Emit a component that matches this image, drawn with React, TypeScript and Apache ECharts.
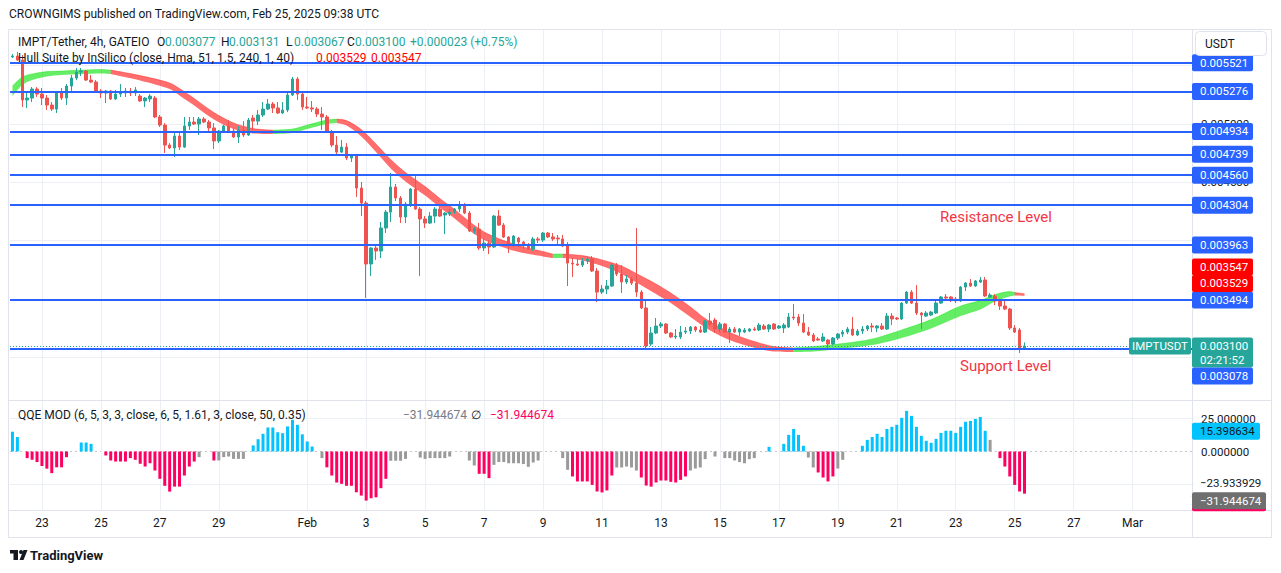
import React, { useEffect, useRef } from "react";
import * as echarts from "echarts";

const FONT = "Roboto, 'Noto Sans', Arial, sans-serif";
const TEXT = "#131722";
const UP = "#26a69a";
const DOWN = "#ef5350";
const BLUE = "#2962ff";
const GRID = "#eceff3";

// 4h candles from 22 Jan 2025 00:00 UTC, prices in millionths of USDT: [open, high, low, close]
const candles: number[][] = [
  [5571,5596,5562,5579],[5579,5613,5537,5545],[5545,5588,5143,5203],[5203,5263,5135,5220],[5220,5314,5186,5297],
  [5297,5314,5229,5254],[5254,5306,5160,5220],[5220,5246,5118,5160],[5160,5186,5109,5126],[5126,5271,5092,5263],
  [5263,5306,5203,5220],[5220,5340,5160,5323],[5323,5417,5271,5391],[5391,5477,5374,5442],[5442,5477,5408,5451],
  [5451,5460,5366,5374],[5374,5417,5348,5357],[5357,5374,5263,5271],[5280,5297,5220,5263],[5263,5289,5177,5280],
  [5280,5289,5203,5212],[5212,5289,5203,5254],[5254,5340,5229,5271],[5263,5306,5229,5280],[5280,5306,5237,5263],
  [5263,5314,5237,5289],[5237,5254,5186,5195],[5195,5229,5143,5220],[5212,5254,5186,5237],[5220,5237,5049,5058],
  [5058,5075,4972,4989],[4989,5006,4750,4818],[4818,4835,4784,4793],[4793,4929,4716,4895],[4895,4921,4776,4801],
  [4801,5058,4793,4981],[4981,5058,4947,5015],[5015,5058,4989,4998],[4998,5058,4904,5041],[5041,5058,5006,5015],
  [5015,5032,4929,4964],[4964,5006,4784,4853],[4853,4947,4835,4938],[4938,4989,4921,4981],[4981,5032,4929,4938],
  [4938,4964,4878,4887],[4887,4981,4835,4947],[4947,5023,4887,4904],[4904,5049,4895,5032],[5049,5075,4947,5023],
  [5023,5118,4989,5075],[5075,5186,5058,5126],[5126,5212,5118,5169],[5169,5186,5092,5135],[5135,5186,5083,5092],
  [5092,5186,5083,5118],[5118,5263,5100,5246],[5246,5400,5237,5383],[5383,5400,5203,5254],[5254,5263,5118,5143],
  [5143,5229,5126,5135],[5135,5195,5100,5126],[5126,5143,5058,5083],[5083,5143,4947,5058],[5058,5075,4921,4929],
  [4929,4947,4801,4818],[4818,4895,4741,4758],[4758,4861,4750,4801],[4801,4835,4690,4707],[4707,4741,4673,4724],
  [4724,4733,4374,4451],[4451,4502,4211,4322],[4322,4340,3510,3801],[3801,3946,3698,3938],[3938,3963,3835,3912],
  [3912,4160,3852,4109],[4109,4263,4066,4245],[4245,4579,4160,4459],[4459,4485,4340,4365],[4365,4382,4151,4203],
  [4203,4331,4151,4314],[4314,4451,4288,4442],[4442,4553,4263,4271],[4271,4288,3698,4186],[4186,4211,4109,4151],
  [4151,4245,4143,4211],[4211,4288,4151,4271],[4271,4288,4203,4211],[4220,4245,4057,4237],[4228,4271,4211,4245],
  [4245,4280,4228,4271],[4271,4340,4245,4297],[4297,4322,4228,4237],[4237,4254,4074,4083],[4083,4117,4057,4100],
  [4100,4151,3921,3938],[3938,4015,3912,3980],[3980,4006,3886,3946],[3946,4220,3938,4211],[4211,4263,4126,4134],
  [4134,4151,4023,4032],[4032,4040,3895,3963],[3963,4049,3946,4040],[4023,4032,3946,3989],[3989,3998,3929,3963],
  [3963,3980,3921,3929],[3929,4032,3912,4015],[4015,4032,3980,4006],[4006,4074,3989,4066],[4066,4074,4023,4032],
  [4032,4066,3998,4015],[4023,4049,3955,4015],[4015,4049,3946,3955],[3955,3989,3613,3809],[3809,3852,3690,3801],
  [3801,3844,3784,3792],[3792,3852,3775,3826],[3826,3861,3801,3844],[3844,3869,3732,3741],[3741,3767,3476,3561],
  [3561,3621,3544,3587],[3587,3664,3544,3613],[3613,3809,3604,3792],[3792,3809,3698,3715],[3715,3792,3553,3647],
  [3647,3707,3630,3673],[3673,3690,3621,3638],[3638,4109,3519,3561],[3561,3578,3416,3425],[3425,3485,3083,3100],
  [3117,3262,3100,3211],[3211,3339,3202,3271],[3271,3305,3254,3288],[3288,3296,3202,3211],[3211,3219,3168,3177],
  [3177,3245,3160,3185],[3177,3271,3160,3219],[3219,3262,3202,3228],[3228,3271,3202,3262],[3262,3271,3219,3237],
  [3237,3271,3211,3219],[3219,3322,3211,3313],[3313,3382,3271,3288],[3322,3339,3211,3245],[3245,3305,3219,3288],
  [3288,3296,3211,3219],[3219,3262,3126,3245],[3245,3262,3211,3219],[3219,3254,3185,3245],[3219,3254,3211,3237],
  [3228,3254,3219,3245],[3245,3262,3228,3237],[3237,3296,3228,3279],[3271,3288,3237,3245],[3245,3288,3219,3279],
  [3288,3296,3237,3245],[3254,3279,3245,3271],[3254,3296,3211,3279],[3262,3382,3254,3348],[3348,3459,3322,3339],
  [3348,3373,3271,3296],[3296,3373,3211,3219],[3219,3262,3185,3194],[3194,3211,3134,3143],[3160,3177,3143,3151],
  [3143,3211,3134,3177],[3151,3160,3074,3117],[3117,3177,3108,3168],[3168,3211,3151,3202],[3202,3237,3177,3219],
  [3219,3262,3202,3245],[3245,3348,3185,3194],[3194,3245,3185,3228],[3228,3271,3202,3245],[3245,3279,3228,3271],
  [3271,3296,3219,3262],[3254,3279,3219,3271],[3271,3296,3237,3245],[3245,3382,3237,3356],[3356,3382,3279,3331],
  [3339,3348,3322,3331],[3331,3476,3322,3467],[3467,3570,3459,3561],[3561,3578,3459,3467],[3467,3621,3365,3382],
  [3382,3390,3245,3365],[3356,3399,3348,3382],[3365,3399,3356,3390],[3382,3502,3373,3467],[3467,3527,3459,3519],
  [3519,3544,3493,3510],[3519,3527,3476,3493],[3502,3519,3467,3485],[3485,3613,3476,3604],[3604,3647,3570,3638],
  [3638,3673,3604,3613],[3613,3664,3604,3656],[3647,3690,3638,3664],[3664,3690,3519,3527],[3519,3553,3510,3536],
  [3527,3544,3450,3485],[3485,3502,3408,3442],[3442,3485,3408,3416],[3416,3425,3237,3254],[3254,3279,3211,3219],
  [3237,3254,3040,3077],[3077,3131,3067,3100],
];

// Hull Suite band (millionths of USDT), sampled at bar indices
const hullIdx = [0,2,4,7,10,14,18,20,26,32,34,37,41,45,49,53,57,60,64,66,68,71,74,77,80,84,87,90,93,96,100,104,108,110,112,116,120,124,127,131,134,138,141,145,148,152,155,159,163,169,175,181,187,193,197,200,203,204,206];
const hullUpper = [5323,5400,5426,5446,5451,5459,5464,5459,5412,5349,5301,5216,5096,5007,4959,4946,4955,4989,5032,5040,5027,4951,4827,4694,4583,4463,4361,4267,4164,4075,4002,3947,3908,3886,3886,3873,3836,3784,3719,3630,3553,3434,3335,3237,3181,3126,3095,3083,3095,3121,3160,3237,3326,3442,3488,3540,3565,3557,3547];
const hullLower = [5237,5332,5374,5404,5417,5425,5430,5425,5370,5297,5241,5156,5036,4955,4917,4912,4921,4955,4998,5006,4985,4891,4759,4618,4507,4387,4285,4191,4088,4007,3942,3895,3866,3852,3852,3831,3784,3716,3643,3544,3467,3348,3259,3169,3121,3074,3053,3049,3053,3079,3108,3169,3250,3356,3412,3480,3523,3531,3529];
const hullTrend = [
  "g","g","g","g","g","g","g",
  "r","r","r","r","r","r","r","r",
  "g","g","g","g",
  "r","r","r","r","r","r","r","r","r","r","r","r","r","r",
  "g",
  "r","r","r","r","r","r","r","r","r","r","r","r","r",
  "g","g","g","g","g","g","g","g","g","g",
  "r","r",
];

// QQE MOD histogram
const qqeValues = [
  15,11,0,-5,-6.3,-8,-11,-13,-16.4,-12,
  -12,-4.3,0,0,6.8,6.8,5.8,0,0,-3,
  -6.8,-7.6,-7.6,-7.6,-5,-6.3,-9.3,-11.4,-8.9,-14.4,
  -20.7,-26,-30.4,-26.6,-26.6,-18.2,-11.4,-7.6,-4.3,0,
  0,-6.8,-6.8,-4.3,-3.8,-5.6,-5.6,-5.6,0,4.6,
  9.3,13.4,18.2,18.2,14.6,13.9,19,24,20.2,13,
  7.6,3.8,0,-5,-12,-18.2,-23.5,-24.5,-26,-26,
  -30.9,-33.4,-37.2,-35.4,-34.7,-27.8,-20.7,-7,-7,-7,
  -5.6,0,0,-4.6,-5.6,-5,-5,-5,-5,-3.8,
  0,0,0,-6.8,-10.6,-16.9,-16.9,-20.2,-10.1,-8,
  -8,-8.9,-8.9,-8.9,-9.5,-11.6,-8.3,-6.8,0,0,
  0,0,-5,-13.9,-18.9,-22.7,-22.7,-22.7,-25.3,-30.3,
  -31,-29.5,-18.2,-12.1,-12.1,-11.4,-12.1,-14.4,-19.7,-25.8,
  -26.6,-23.5,-22,-22,-23,-23.5,-21.5,-18.9,-14.4,-12.9,
  -12.1,-5.8,0,-3.8,0,-5,-5,-6.8,-8,-8.9,
  -5.8,-5,0,0,3.5,0,0,5.8,12.6,17.1,
  12.6,4.3,-4.6,-12.1,-15.9,-19.7,-22.7,-18.9,-12.9,-6.3,
  0,0,0,4.3,8.8,11,13.4,11,17.1,18.7,
  20.2,25.5,30.8,27,18.7,11.9,8.1,6.6,9.6,14.1,
  15.7,15.7,14.1,18.7,22.5,23.2,24.7,26.2,15.7,8.8,
  0,-5,-11.4,-18.9,-25.3,-30.3,-31.944674,
];
const qqeColorCodes = (
  "bb-ppppppp" + "pp--bbb--p" + "pppppppppp" + "ppppppppg-" + "-pgggggg-b" +
  "bbbbbbbbbb" + "bb-gpppppp" + "pppppppggg" + "g--ggggggg" + "---ggpppgg" +
  "gggggggg--" + "--ggpppppp" + "pppgggggpp" + "ppppppppgg" + "gg-g-ggggg" +
  "gg--b--bbb" + "bbggppppgg" + "---bbbbbbb" + "bbbbbbbbbb" + "bbbbbbbbbg" + "-pppppp"
).split("");

const levelLines = [5521, 5276, 4934, 4739, 4560, 4304, 3963, 3494, 3078];
const priceTicks = [3000, 3500, 4000, 4500, 5000, 5500];
const labelledTicks = [4000, 4500, 5000]; // the others sit fully behind the price boxes
const lastClose = 3100;
const hullLast = [3529, 3547];
const qqeLastBlue = 15.398634;
const qqeLevel = -23.933929;
const qqeLast = -31.944674;

const dayTickOffsets = [1,3,5,7,10,12,14,16,18,20,22,24,26,28,30,32,34,36,38];
const dayTickLabels = ["23","25","27","29","Feb","3","5","7","9","11","13","15","17","19","21","23","25","27","Mar"];

const BARS_PER_DAY = 6;
const SLOTS = 241;

const fmt = (v: number) => (v / 1e6).toFixed(6);

export default function App() {
  const ref = useRef<HTMLDivElement>(null);
  useEffect(() => {
    const el = ref.current!;
    const chart = echarts.init(el, null, { renderer: "svg" });
    const cats = Array.from({ length: SLOTS }, (_, k) => String(k));
    const tickIdx = dayTickOffsets.map((d) => d * BARS_PER_DAY);
    const tickMap: Record<number, string> = {};
    tickIdx.forEach((t, k) => (tickMap[t] = dayTickLabels[k]));

    // hull segments by trend colour
    const segs: { trend: string; from: number; to: number }[] = [];
    let start = 0;
    for (let k = 1; k < hullIdx.length; k++) {
      if (hullTrend[k] !== hullTrend[start] || k === hullIdx.length - 1) {
        segs.push({ trend: hullTrend[start], from: start, to: k });
        start = k;
      }
    }
    const gridMarkLine = {
      symbol: "none",
      silent: true,
      z: 1,
      animation: false,
      lineStyle: { color: GRID, width: 1, type: "solid" },
      label: {
        show: true,
        position: "end",
        distance: 7,
        color: TEXT,
        fontSize: 11.5,
        fontFamily: FONT,
        formatter: (p: any) => fmt(p.value),
      },
      data: [
        ...priceTicks.map((v) => ({ yAxis: v, label: { show: labelledTicks.includes(v) } })),
        ...tickIdx.map((t) => ({ xAxis: t, label: { show: false } })),
      ],
    };
    const hullSeries: any[] = [];
    segs.forEach((s, n) => {
      const ks: number[] = [];
      for (let k = s.from; k <= s.to; k++) ks.push(k);
      const color = s.trend === "g" ? "rgba(0,225,0,0.6)" : "rgba(255,20,20,0.62)";
      // value first, bar index second: the stack then applies to the price dimension
      hullSeries.push({
        type: "line", xAxisIndex: 1, yAxisIndex: 0, stack: "hull" + n, silent: true, z: 2,
        encode: { x: 1, y: 0 },
        data: ks.map((k) => [hullLower[k], hullIdx[k]]),
        smooth: 0.3, symbol: "none", lineStyle: { width: 0, opacity: 0 },
        ...(n === 0 ? { markLine: gridMarkLine } : {}),
      });
      hullSeries.push({
        type: "line", xAxisIndex: 1, yAxisIndex: 0, stack: "hull" + n, silent: true, z: 2,
        encode: { x: 1, y: 0 },
        data: ks.map((k) => [hullUpper[k] - hullLower[k], hullIdx[k]]),
        smooth: 0.3, symbol: "none", lineStyle: { width: 0.6, color },
        areaStyle: { color, opacity: 1 },
      });
    });

    const qqeCol: Record<string, string> = { b: "#00c3ff", p: "#ff0062", g: "#9a9a9a", "-": "#9a9a9a" };

    const option: any = {
      animation: false,
      backgroundColor: "#ffffff",
      grid: [
        { left: 10, top: 30, width: 1184, height: 370 },
        { left: 10, top: 401, width: 1184, height: 109 },
      ],
      xAxis: [
        { type: "category", gridIndex: 0, data: cats, boundaryGap: true, show: false },
        { type: "value", gridIndex: 0, min: -0.5, max: SLOTS - 0.5, show: false },
        {
          type: "category", gridIndex: 1, data: cats, boundaryGap: true,
          axisLine: { show: false }, axisTick: { show: false }, splitLine: { show: false },
          axisLabel: {
            interval: (i: number) => tickMap[i] !== undefined,
            formatter: (_v: string, i: number) => tickMap[i] ?? "",
            color: TEXT, fontSize: 12, fontFamily: FONT, margin: 7,
          },
        },
      ],
      yAxis: [
        { type: "value", gridIndex: 0, min: 2638.3, max: 5801.8, show: false, scale: true },
        { type: "value", gridIndex: 1, min: -44.32, max: 38.26, show: false },
      ],
      series: [
        ...hullSeries,
        {
          type: "candlestick", xAxisIndex: 0, yAxisIndex: 0, silent: true, z: 3,
          data: candles.map(([o, h, l, c]) => [o, c, l, h]),
          barWidth: 3,
          itemStyle: { color: UP, color0: DOWN, borderColor: UP, borderColor0: DOWN, borderWidth: 1 },
          markLine: {
            symbol: "none", silent: true, z: 4, animation: false,
            label: { show: false },
            lineStyle: { color: BLUE, width: 2, type: "solid" },
            data: [
              ...levelLines.map((v) => ({ yAxis: v })),
              { yAxis: lastClose, lineStyle: { color: UP, width: 1, type: [1, 2] } },
            ],
          },
        },
        {
          type: "bar", xAxisIndex: 2, yAxisIndex: 1, silent: true, z: 3, barWidth: 3,
          data: qqeValues.map((v, k) => ({ value: v, itemStyle: { color: qqeCol[qqeColorCodes[k]] } })),
          markLine: {
            symbol: "none", silent: true, z: 1, animation: false,
            lineStyle: { color: GRID, width: 1, type: "solid" },
            label: { show: true, position: "end", distance: 7, color: TEXT, fontSize: 11.5, fontFamily: FONT },
            data: [
              { yAxis: 25, label: { formatter: "25.000000" } },
              { yAxis: -25, label: { show: false } },
              { yAxis: 0, label: { formatter: "0.000000" }, lineStyle: { color: "#c3c6ce", type: [2, 3], width: 1 } },
              ...tickIdx.map((t) => ({ xAxis: String(t), label: { show: false } })),
            ],
          },
        },
      ],
    };
    chart.setOption(option);

    const yP = (v: number) => chart.convertToPixel({ yAxisIndex: 0 } as any, v) as number;
    const yQ = (v: number) => chart.convertToPixel({ yAxisIndex: 1 } as any, v) as number;
    const AX = 1192;
    const BH = 17;
    const txt = (x: number, y: number, text: string, fill = TEXT, size = 12, extra: any = {}) => ({
      type: "text", x, y, z: 101,
      style: {
        text, fill, font: `${extra.weight || "normal"} ${size}px ${FONT}`,
        textAlign: extra.align || "left", align: extra.align || "left",
        textVerticalAlign: "middle", verticalAlign: "middle",
      },
    });
    const box = (yc: number, text: string, fill: string, color = "#ffffff", w = 61) => [
      { type: "rect", z: 100, shape: { x: AX, y: yc - BH / 2, width: w, height: BH, r: 2 }, style: { fill } },
      txt(AX + 8, yc, text, color, 11.5),
    ];
    const hline = (x1: number, y1: number, x2: number, y2: number) => ({
      type: "line", z: 90, shape: { x1, y1, x2, y2 }, style: { stroke: "#e0e3eb", lineWidth: 1 },
    });

    const els: any[] = [];
    // frame
    els.push({ type: "rect", z: 90, shape: { x: 8.5, y: 29.5, width: 1263, height: 508 }, style: { fill: "none", stroke: "#e0e3eb", lineWidth: 1 } });
    els.push(hline(8.5, 400.5, 1271.5, 400.5));
    els.push(hline(8.5, 510.5, 1271.5, 510.5));
    els.push(hline(1192.5, 29.5, 1192.5, 537.5));

    // header & legends
    els.push(txt(9, 14, "CROWNGIMS published on TradingView.com, Feb 25, 2025 09:38 UTC", TEXT, 12));
    els.push(txt(18, 42, "IMPT/Tether, 4h, GATEIO", TEXT, 12));
    const ohlc = [["O", 157, "0.003077"], ["H", 221, "0.003131"], ["L", 286, "0.003067"], ["C", 347, "0.003100"]];
    ohlc.forEach(([k, x, v]) => {
      els.push(txt(x as number, 42, k as string, TEXT, 12));
      els.push(txt((x as number) + 8, 42, v as string, UP, 12));
    });
    els.push(txt(410, 42, "+0.000023 (+0.75%)", UP, 12));
    els.push(txt(18, 58, "Hull Suite by InSilico (close, Hma, 51, 1.5, 240, 1, 40)", TEXT, 12));
    els.push(txt(316, 58, fmt(hullLast[0]), "#ff0000", 12));
    els.push(txt(371, 58, fmt(hullLast[1]), "#ff0000", 12));
    els.push(txt(18, 415, "QQE MOD (6, 5, 3, 3, close, 6, 5, 1.61, 3, close, 50, 0.35)", TEXT, 12));
    els.push(txt(403, 415, "\u2212" + Math.abs(qqeLast).toFixed(6), "#787b86", 12));
    els.push(txt(471, 415, "\u2205", TEXT, 12));
    els.push(txt(490, 415, "\u2212" + Math.abs(qqeLast).toFixed(6), "#ff0062", 12));

    // annotations
    els.push(txt(940, 217, "Resistance Level", "#f23645", 15));
    els.push(txt(960, 366, "Support Level", "#f23645", 15));

    // price scale labels
    levelLines.filter((v) => v !== 3078).forEach((v) => els.push(...box(yP(v), fmt(v), BLUE)));
    const y3494 = yP(3494);
    els.push(...box(y3494 - 16.5, fmt(hullLast[0]), "#ff0000"));
    els.push(...box(y3494 - 33, fmt(hullLast[1]), "#ff0000"));
    const yc = yP(lastClose);
    els.push({ type: "rect", z: 100, shape: { x: AX, y: yc - 8.5, width: 61, height: 30, r: 2 }, style: { fill: UP } });
    els.push(txt(AX + 8, yc, fmt(lastClose), "#ffffff", 11.5));
    els.push(txt(AX + 8, yc + 13.5, "02:21:52", "#ffffff", 11.5));
    els.push(...box(yc + 30, fmt(3078), BLUE));
    els.push({ type: "rect", z: 100, shape: { x: 1129, y: yc - 8.5, width: 62, height: 17, r: 2 }, style: { fill: UP } });
    els.push(txt(1160, yc, "IMPTUSDT", "#ffffff", 11.5, { align: "center" }));
    els.push({ type: "rect", z: 110, shape: { x: 1195.5, y: 31.5, width: 71, height: 24, r: 4 }, style: { fill: "#ffffff", stroke: "#e0e3eb", lineWidth: 1 } });
    els.push({ ...txt(1205, 44, "USDT", TEXT, 12), z: 111 });

    // QQE scale labels
    els.push(...box(yQ(qqeLastBlue), qqeLastBlue.toFixed(6), "#00c3ff", TEXT, 68));
    els.push(txt(AX + 8, yQ(qqeLevel), "\u2212" + Math.abs(qqeLevel).toFixed(6), TEXT, 11.5));
    const yl = yQ(qqeLast);
    els.push({ type: "rect", z: 100, shape: { x: AX, y: yl + 9 - BH / 2, width: 74, height: BH, r: 2 }, style: { fill: "#ff0062" } });
    els.push(...box(yl + 7, "\u2212" + Math.abs(qqeLast).toFixed(6), "#6f6f6f", "#ffffff", 74));

    // TradingView logo
    els.push({ type: "rect", z: 100, shape: { x: 10, y: 550, width: 8, height: 3.5 }, style: { fill: TEXT } });
    els.push({ type: "rect", z: 100, shape: { x: 13.5, y: 550, width: 4.5, height: 10 }, style: { fill: TEXT } });
    els.push({ type: "circle", z: 100, shape: { cx: 21, cy: 552, r: 2 }, style: { fill: TEXT } });
    els.push({ type: "polygon", z: 100, shape: { points: [[19.5, 560], [23.5, 550], [27.5, 550], [23.5, 560]] }, style: { fill: TEXT } });
    els.push(txt(30, 555, "TradingView", TEXT, 13, { weight: "bold" }));

    chart.setOption({ graphic: { elements: els } });
    return () => chart.dispose();
  }, []);
  return (
    <div
      ref={ref}
      style={{ position: "absolute", left: 0, top: 0, width: 1281, height: 573, background: "#ffffff" }}
    />
  );
}
